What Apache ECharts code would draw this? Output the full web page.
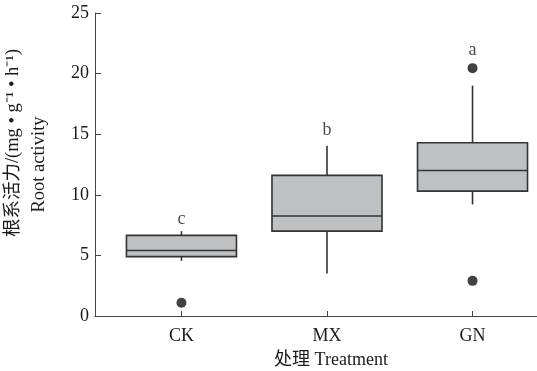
<!DOCTYPE html>
<html><head><meta charset="utf-8">
<script src="https://cdn.jsdelivr.net/npm/echarts@6/dist/echarts.min.js"></script>
<style>html,body{margin:0;padding:0;background:#fff}#c{width:537px;height:371px}</style>
</head><body><div id="c"></div>
<script>
const categories = ['CK', 'MX', 'GN'];
const boxMin    = [4.55, 3.5, 9.2];
const boxQ1     = [4.9, 7.0, 10.3];
const boxMedian = [5.4, 8.25, 12.0];
const boxQ3     = [6.65, 11.6, 14.3];
const boxMax    = [7.0, 14.05, 19.0];
const outlierCat = [0, 2, 2];
const outlierVal = [1.1, 20.45, 2.9];
const letters   = ['c', 'b', 'a'];
const letterY   = [8.0, 15.35, 21.95];

const FONT = "'Liberation Serif','Times New Roman','Noto Sans CJK SC',serif";
const TXT = '#1a1a1a';
const boxData = categories.map((c, i) => [i, boxMin[i], boxQ1[i], boxMedian[i], boxQ3[i], boxMax[i]]);
const outData = outlierCat.map((c, i) => [c, outlierVal[i]]);
const letterData = categories.map((c, i) => ({value: [i, letterY[i]], name: letters[i]}));

function renderBox(params, api) {
  const x = api.value(0);
  const pMin = api.coord([x, api.value(1)]);
  const pQ1 = api.coord([x, api.value(2)]);
  const pMed = api.coord([x, api.value(3)]);
  const pQ3 = api.coord([x, api.value(4)]);
  const pMax = api.coord([x, api.value(5)]);
  const half = api.size([1, 0])[0] * 0.378;
  const cx = pMed[0];
  const ls = {stroke: '#333', lineWidth: 1.6, fill: null};
  return {
    type: 'group',
    children: [
      {type: 'line', shape: {x1: cx, y1: pMax[1], x2: cx, y2: pQ3[1]}, style: ls},
      {type: 'line', shape: {x1: cx, y1: pQ1[1], x2: cx, y2: pMin[1]}, style: ls},
      {type: 'rect', shape: {x: cx - half, y: pQ3[1], width: 2 * half, height: pQ1[1] - pQ3[1]},
        style: {fill: '#bfc0c2', stroke: '#333', lineWidth: 1.6}},
      {type: 'line', shape: {x1: cx - half, y1: pMed[1], x2: cx + half, y2: pMed[1]}, style: ls}
    ]
  };
}

const chart = echarts.init(document.getElementById('c'), null, {renderer: 'canvas'});
chart.setOption({
  animation: false,
  backgroundColor: '#fff',
  grid: {left: 95, right: 0, top: 13, bottom: 55, containLabel: false, outerBoundsMode: 'none'},
  xAxis: {
    type: 'value', min: -0.594, max: 2.443,
    splitLine: {show: false},
    axisLine: {show: true, onZero: false, lineStyle: {color: '#444', width: 1}},
    axisTick: {show: true, inside: true, length: 5, customValues: [0, 1, 2], lineStyle: {color: '#444'}},
    axisLabel: {customValues: [0, 1, 2], formatter: v => categories[Math.round(v)] || '', margin: 11,
      fontFamily: FONT, fontSize: 18, color: TXT},
    name: '处理 Treatment', nameLocation: 'middle', nameGap: 34, nameMoveOverlap: false,
    nameTextStyle: {fontFamily: FONT, fontSize: 18, color: TXT, padding: [0, 0, 0, 30], lineHeight: 20}
  },
  yAxis: {
    type: 'value', min: 0, max: 25, interval: 5,
    splitLine: {show: false},
    axisLine: {show: true, onZero: false, lineStyle: {color: '#444', width: 1}},
    axisTick: {show: true, inside: true, length: 6, lineStyle: {color: '#444'}},
    axisLabel: {fontFamily: FONT, fontSize: 18, color: TXT, margin: 6},
    name: '{a|根系活力/(mg • g⁻¹ • h⁻¹)}\n{b|Root activity}',
    nameLocation: 'middle', nameGap: 43, nameMoveOverlap: false,
    nameTextStyle: {
      fontFamily: FONT, fontSize: 18.5, color: TXT, lineHeight: 26,
      rich: {
        a: {fontFamily: FONT, fontSize: 18.5, color: TXT, lineHeight: 26, padding: [0, 0, 0, 43]},
        b: {fontFamily: FONT, fontSize: 18.5, color: TXT, lineHeight: 26}
      }
    }
  },
  series: [
    {
      type: 'custom', data: boxData, renderItem: renderBox,
      encode: {x: 0, y: [1, 2, 3, 4, 5]}, emphasis: {disabled: true}
    },
    {
      type: 'scatter', data: outData, symbol: 'circle', symbolSize: 10,
      itemStyle: {color: '#111'}, emphasis: {disabled: true}
    },
    {
      type: 'scatter', data: letterData, symbolSize: 0,
      label: {show: true, position: 'inside', formatter: p => p.name,
        fontFamily: FONT, fontSize: 18, color: TXT},
      emphasis: {disabled: true}
    }
  ]
});
</script></body></html>
